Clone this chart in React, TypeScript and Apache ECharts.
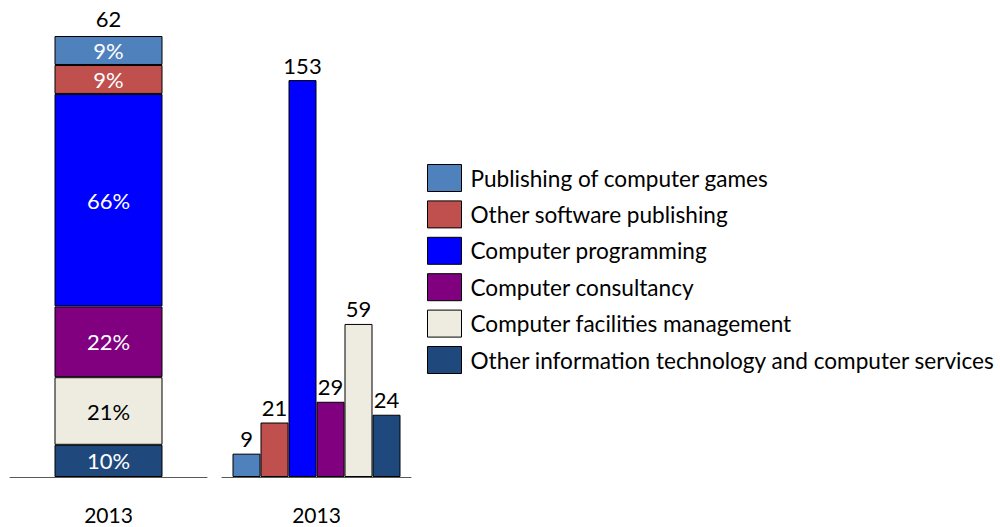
import React, { useEffect, useRef } from "react";
import * as echarts from "echarts";

const categories = ["2013"];
const seriesNames = [
  "Publishing of computer games",
  "Other software publishing",
  "Computer programming",
  "Computer consultancy",
  "Computer facilities management",
  "Other information technology and computer services",
];
const colors = ["#4F81BD", "#C0504D", "#0000FF", "#800080", "#EEECE1", "#1F497D"];
const shareLabels = [9, 9, 66, 22, 21, 10]; // percent shares shown in stacked bar
const counts = [9, 21, 153, 29, 59, 24];
const totalLabel = 62;
const labelColors = ["#fff", "#fff", "#fff", "#fff", "#000", "#fff"];

const FONT = "Lato, 'Open Sans', sans-serif";
const FS = 22;

export default function App() {
  const ref = useRef<HTMLDivElement>(null);
  useEffect(() => {
    if (!ref.current) return;
    const chart = echarts.init(ref.current, undefined, { renderer: "svg" });
    const stackOrder = [5, 4, 3, 2, 1, 0];
    const stacked: any[] = stackOrder.map((i) => ({
      type: "bar",
      name: seriesNames[i],
      xAxisIndex: 0,
      yAxisIndex: 0,
      stack: "s",
      barWidth: 108,
      data: [shareLabels[i]],
      itemStyle: { color: colors[i], borderColor: "#000", borderWidth: 1 },
      label: {
        show: true,
        position: "inside",
        formatter: "{c}%",
        color: labelColors[i],
        fontSize: FS,
        fontFamily: FONT,
      },
    }));
    stacked.push({
      type: "bar",
      name: "total",
      xAxisIndex: 0,
      yAxisIndex: 0,
      stack: "s",
      barWidth: 108,
      data: [0],
      itemStyle: { color: "transparent" },
      label: {
        show: true,
        position: "top",
        distance: 7,
        formatter: () => String(totalLabel),
        color: "#000",
        fontSize: FS,
        fontFamily: FONT,
      },
    });
    const grouped = seriesNames.map((n, i) => ({
      type: "bar",
      name: n,
      xAxisIndex: 1,
      yAxisIndex: 1,
      barWidth: 28,
      barGap: "0%",
      data: [counts[i]],
      itemStyle: { color: colors[i], borderColor: "#000", borderWidth: 1 },
      label: {
        show: true,
        position: "top",
        distance: 4,
        color: "#000",
        fontSize: FS,
        fontFamily: FONT,
      },
    }));
    const xBase = {
      type: "category",
      data: categories,
      axisLine: { show: true, lineStyle: { color: "#595959", width: 1 } },
      axisTick: { show: false },
      axisLabel: { margin: 26, fontSize: 21, lineHeight: 22, color: "#000", fontFamily: FONT },
    };
    const yBase = {
      type: "value",
      min: 0,
      show: false,
      splitLine: { show: false },
    };
    chart.setOption({
      animation: false,
      textStyle: { fontFamily: FONT },
      grid: [
        { left: 10, width: 197, top: 36, height: 441 },
        { left: 222, width: 189, top: 36, height: 441 },
      ],
      xAxis: [
        { ...xBase, gridIndex: 0 },
        { ...xBase, gridIndex: 1 },
      ],
      yAxis: [
        { ...yBase, gridIndex: 0, max: 137 },
        { ...yBase, gridIndex: 1, max: 170 },
      ],
      legend: {
        data: seriesNames,
        orient: "vertical",
        left: 427,
        top: 164,
        padding: 0,
        itemWidth: 34,
        itemHeight: 27,
        itemGap: 8.4,
        icon: "rect",
        selectedMode: false,
        itemStyle: { borderColor: "#000", borderWidth: 1 },
        textStyle: { fontSize: 22.6, color: "#000", fontFamily: FONT, padding: [0, 0, 0, 4] },
      },
      series: [...stacked, ...grouped],
    });
    return () => chart.dispose();
  }, []);
  return (
    <div
      ref={ref}
      style={{ position: "absolute", left: 0, top: 0, width: 1000, height: 527 }}
    />
  );
}
